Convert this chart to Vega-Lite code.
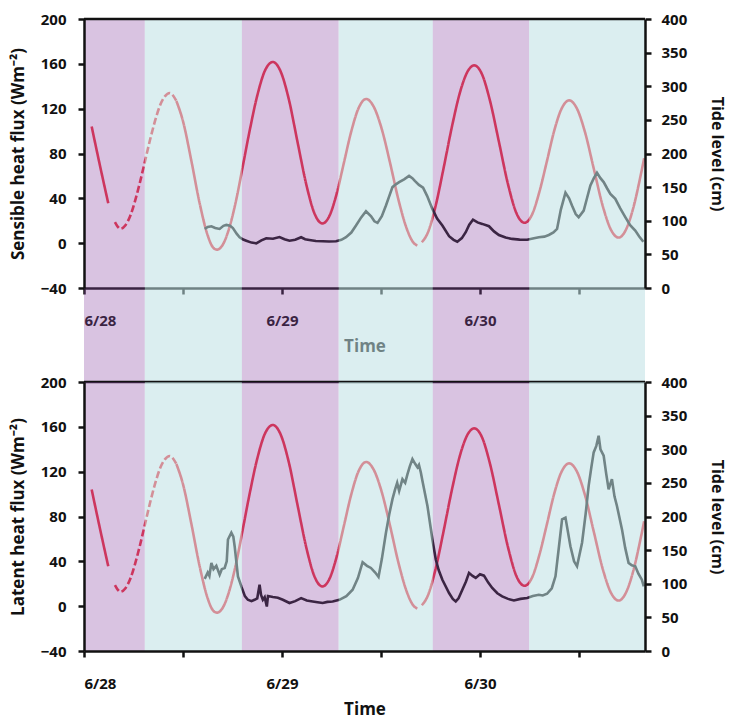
{
  "$schema": "https://vega.github.io/schema/vega-lite/v6.json",
  "padding": {"left": 9, "top": 12, "right": 5, "bottom": 5},
  "background": "white",
  "config": {
    "view": {"stroke": null},
    "font": "Open Sans",
    "axis": {
      "labelFont": "Open Sans", "titleFont": "Open Sans",
      "labelFontSize": 15, "labelFontWeight": "bold", "labelColor": "#111111",
      "titleFontSize": 16, "titleFontWeight": "bold", "titleColor": "#111111",
      "domainColor": "#111111", "domainWidth": 2.5, "tickColor": "#111111", "tickWidth": 2.5, "tickSize": 6,
      "grid": false
    }
  },
  "datasets": {
    "bands": [
      {"start": 0, "end": 7.37, "phase": "night"},
      {"start": 7.37, "end": 19.14, "phase": "day"},
      {"start": 19.14, "end": 30.87, "phase": "night"},
      {"start": 30.87, "end": 42.28, "phase": "day"},
      {"start": 42.28, "end": 53.96, "phase": "night"},
      {"start": 53.96, "end": 68, "phase": "day"}
    ],
    "tide": [
      {"seg": "A", "style": "solid", "t": 0.93, "h": 240},
      {"seg": "A", "style": "solid", "t": 1.9, "h": 184},
      {"seg": "A", "style": "solid", "t": 2.94, "h": 126},
      {"seg": "B", "style": "dashed", "t": 3.75, "h": 98},
      {"seg": "B", "style": "dashed", "t": 4.1, "h": 91},
      {"seg": "B", "style": "dashed", "t": 4.4, "h": 88},
      {"seg": "B", "style": "dashed", "t": 5.0, "h": 93},
      {"seg": "B", "style": "dashed", "t": 5.6, "h": 107},
      {"seg": "B", "style": "dashed", "t": 6.2, "h": 130},
      {"seg": "B", "style": "dashed", "t": 6.8, "h": 158},
      {"seg": "B", "style": "dashed", "t": 7.4, "h": 189},
      {"seg": "B", "style": "dashed", "t": 8.0, "h": 220},
      {"seg": "B", "style": "dashed", "t": 8.6, "h": 248},
      {"seg": "B", "style": "dashed", "t": 9.2, "h": 271},
      {"seg": "B", "style": "dashed", "t": 9.8, "h": 285},
      {"seg": "B", "style": "dashed", "t": 10.4, "h": 290},
      {"seg": "B", "style": "dashed", "t": 11.2, "h": 278},
      {"seg": "C", "style": "solid", "t": 11.2, "h": 278},
      {"seg": "C", "style": "solid", "t": 12.0, "h": 248},
      {"seg": "C", "style": "solid", "t": 13.0, "h": 190},
      {"seg": "C", "style": "solid", "t": 14.0, "h": 127},
      {"seg": "C", "style": "solid", "t": 15.0, "h": 78},
      {"seg": "C", "style": "solid", "t": 15.6, "h": 61},
      {"seg": "C", "style": "solid", "t": 16.1, "h": 57},
      {"seg": "C", "style": "solid", "t": 16.8, "h": 64},
      {"seg": "C", "style": "solid", "t": 17.6, "h": 89},
      {"seg": "C", "style": "solid", "t": 18.5, "h": 134},
      {"seg": "C", "style": "solid", "t": 19.2, "h": 178},
      {"seg": "C", "style": "solid", "t": 20.0, "h": 229},
      {"seg": "C", "style": "solid", "t": 21.0, "h": 286},
      {"seg": "C", "style": "solid", "t": 22.0, "h": 325},
      {"seg": "C", "style": "solid", "t": 22.9, "h": 336},
      {"seg": "C", "style": "solid", "t": 23.8, "h": 323},
      {"seg": "C", "style": "solid", "t": 24.8, "h": 282},
      {"seg": "C", "style": "solid", "t": 25.9, "h": 216},
      {"seg": "C", "style": "solid", "t": 27.0, "h": 151},
      {"seg": "C", "style": "solid", "t": 28.0, "h": 109},
      {"seg": "C", "style": "solid", "t": 28.9, "h": 96},
      {"seg": "C", "style": "solid", "t": 29.7, "h": 106},
      {"seg": "C", "style": "solid", "t": 30.6, "h": 139},
      {"seg": "C", "style": "solid", "t": 31.5, "h": 186},
      {"seg": "C", "style": "solid", "t": 32.4, "h": 233},
      {"seg": "C", "style": "solid", "t": 33.3, "h": 268},
      {"seg": "C", "style": "solid", "t": 34.2, "h": 281},
      {"seg": "C", "style": "solid", "t": 35.1, "h": 270},
      {"seg": "C", "style": "solid", "t": 36.1, "h": 236},
      {"seg": "C", "style": "solid", "t": 37.1, "h": 186},
      {"seg": "C", "style": "solid", "t": 38.1, "h": 132},
      {"seg": "C", "style": "solid", "t": 39.1, "h": 89},
      {"seg": "C", "style": "solid", "t": 39.9, "h": 68},
      {"seg": "C", "style": "solid", "t": 40.4, "h": 63},
      {"seg": "D", "style": "solid", "t": 40.95, "h": 68},
      {"seg": "D", "style": "solid", "t": 41.7, "h": 83},
      {"seg": "D", "style": "solid", "t": 42.6, "h": 121},
      {"seg": "D", "style": "solid", "t": 43.6, "h": 179},
      {"seg": "D", "style": "solid", "t": 44.6, "h": 240},
      {"seg": "D", "style": "solid", "t": 45.6, "h": 292},
      {"seg": "D", "style": "solid", "t": 46.5, "h": 322},
      {"seg": "D", "style": "solid", "t": 47.3, "h": 331},
      {"seg": "D", "style": "solid", "t": 48.2, "h": 319},
      {"seg": "D", "style": "solid", "t": 49.2, "h": 279},
      {"seg": "D", "style": "solid", "t": 50.3, "h": 217},
      {"seg": "D", "style": "solid", "t": 51.4, "h": 154},
      {"seg": "D", "style": "solid", "t": 52.5, "h": 109},
      {"seg": "D", "style": "solid", "t": 53.4, "h": 97},
      {"seg": "D", "style": "solid", "t": 54.3, "h": 109},
      {"seg": "D", "style": "solid", "t": 55.2, "h": 143},
      {"seg": "D", "style": "solid", "t": 56.1, "h": 188},
      {"seg": "D", "style": "solid", "t": 57.0, "h": 234},
      {"seg": "D", "style": "solid", "t": 57.9, "h": 267},
      {"seg": "D", "style": "solid", "t": 58.8, "h": 279},
      {"seg": "D", "style": "solid", "t": 59.7, "h": 268},
      {"seg": "D", "style": "solid", "t": 60.7, "h": 233},
      {"seg": "D", "style": "solid", "t": 61.8, "h": 177},
      {"seg": "D", "style": "solid", "t": 62.9, "h": 121},
      {"seg": "D", "style": "solid", "t": 63.9, "h": 86},
      {"seg": "D", "style": "solid", "t": 64.8, "h": 75},
      {"seg": "D", "style": "solid", "t": 65.7, "h": 87},
      {"seg": "D", "style": "solid", "t": 66.6, "h": 120},
      {"seg": "D", "style": "solid", "t": 67.5, "h": 169},
      {"seg": "D", "style": "solid", "t": 67.9, "h": 193}
    ],
    "sensible": [
      {"t": 14.63, "v": 12.7}, {"t": 15.0, "v": 14.5}, {"t": 15.44, "v": 15.1}, {"t": 15.9, "v": 13.5},
      {"t": 16.44, "v": 12.7}, {"t": 16.9, "v": 15.5}, {"t": 17.25, "v": 16.3}, {"t": 17.7, "v": 15.5},
      {"t": 18.05, "v": 13.5}, {"t": 18.5, "v": 8.5}, {"t": 18.86, "v": 5.3}, {"t": 19.3, "v": 3.2},
      {"t": 19.67, "v": 2.2}, {"t": 20.3, "v": 0.5}, {"t": 20.88, "v": -0.1}, {"t": 21.5, "v": 2.5},
      {"t": 22.09, "v": 4.4}, {"t": 22.9, "v": 4.0}, {"t": 23.7, "v": 5.5}, {"t": 24.3, "v": 3.5},
      {"t": 24.91, "v": 2.2}, {"t": 25.6, "v": 3.0}, {"t": 26.32, "v": 5.3}, {"t": 26.8, "v": 3.5},
      {"t": 27.32, "v": 2.9}, {"t": 28.1, "v": 2.0}, {"t": 28.93, "v": 1.7}, {"t": 29.7, "v": 1.5},
      {"t": 30.55, "v": 1.7}, {"t": 31.2, "v": 3.0}, {"t": 31.76, "v": 5.3}, {"t": 32.4, "v": 9.5},
      {"t": 32.97, "v": 15.7}, {"t": 33.6, "v": 23}, {"t": 34.18, "v": 28.5}, {"t": 34.8, "v": 24},
      {"t": 35.2, "v": 19.5}, {"t": 35.58, "v": 18.1}, {"t": 36.1, "v": 24}, {"t": 36.6, "v": 33.6},
      {"t": 37.0, "v": 42}, {"t": 37.39, "v": 50}, {"t": 37.8, "v": 52.5}, {"t": 38.2, "v": 54.5},
      {"t": 38.8, "v": 57}, {"t": 39.4, "v": 60}, {"t": 39.8, "v": 58}, {"t": 40.1, "v": 55.5},
      {"t": 40.6, "v": 52}, {"t": 41.1, "v": 49.5}, {"t": 41.6, "v": 42}, {"t": 42.2, "v": 31},
      {"t": 42.8, "v": 22}, {"t": 43.44, "v": 15.7}, {"t": 44.25, "v": 6.2}, {"t": 44.8, "v": 3.0},
      {"t": 45.25, "v": 1.3}, {"t": 45.8, "v": 4.5}, {"t": 46.27, "v": 9.8}, {"t": 46.7, "v": 16.5},
      {"t": 47.15, "v": 21}, {"t": 47.7, "v": 18.5}, {"t": 48.27, "v": 17.2}, {"t": 49.09, "v": 15.1},
      {"t": 49.7, "v": 10.5}, {"t": 50.29, "v": 7.3}, {"t": 51.1, "v": 5.0}, {"t": 51.9, "v": 3.8},
      {"t": 52.8, "v": 3.2}, {"t": 53.72, "v": 3.1}, {"t": 54.4, "v": 4.2}, {"t": 55.13, "v": 5.3},
      {"t": 55.8, "v": 5.8}, {"t": 56.34, "v": 7.3}, {"t": 56.9, "v": 9.5}, {"t": 57.34, "v": 12.7},
      {"t": 57.8, "v": 30}, {"t": 58.36, "v": 45}, {"t": 58.8, "v": 40}, {"t": 59.15, "v": 33.6},
      {"t": 59.6, "v": 26}, {"t": 59.96, "v": 23.2}, {"t": 60.57, "v": 29.1}, {"t": 61.0, "v": 41},
      {"t": 61.38, "v": 51.5}, {"t": 61.8, "v": 58}, {"t": 62.18, "v": 62.8}, {"t": 62.6, "v": 58},
      {"t": 62.99, "v": 54.5}, {"t": 63.4, "v": 49}, {"t": 63.8, "v": 44}, {"t": 64.4, "v": 39.6},
      {"t": 65.0, "v": 31}, {"t": 65.61, "v": 23.2}, {"t": 66.2, "v": 16}, {"t": 66.82, "v": 11.2},
      {"t": 67.3, "v": 6}, {"t": 67.8, "v": 1.3}
    ],
    "latent": [
      {"t": 14.63, "v": 24.3}, {"t": 15.0, "v": 30}, {"t": 15.2, "v": 27}, {"t": 15.44, "v": 38.6},
      {"t": 15.7, "v": 33}, {"t": 16.04, "v": 36}, {"t": 16.44, "v": 28.1}, {"t": 16.7, "v": 33},
      {"t": 17.05, "v": 34.1}, {"t": 17.3, "v": 40}, {"t": 17.45, "v": 59.5}, {"t": 17.86, "v": 65.5},
      {"t": 18.1, "v": 62}, {"t": 18.26, "v": 53.5}, {"t": 18.66, "v": 26.6}, {"t": 19.07, "v": 17.6},
      {"t": 19.5, "v": 9}, {"t": 19.86, "v": 5.7}, {"t": 20.3, "v": 4.5}, {"t": 20.67, "v": 5.7},
      {"t": 21.0, "v": 7}, {"t": 21.28, "v": 19.2}, {"t": 21.46, "v": 10}, {"t": 21.68, "v": 5.7},
      {"t": 21.9, "v": 8}, {"t": 22.16, "v": -0.3}, {"t": 22.3, "v": 9}, {"t": 22.89, "v": 8.1},
      {"t": 23.5, "v": 7.5}, {"t": 24.1, "v": 5.7}, {"t": 24.91, "v": 2.8}, {"t": 25.6, "v": 4.5},
      {"t": 26.32, "v": 7.2}, {"t": 27.0, "v": 5.0}, {"t": 27.72, "v": 4.2}, {"t": 28.3, "v": 3.5},
      {"t": 28.93, "v": 2.8}, {"t": 29.5, "v": 3.8}, {"t": 30.14, "v": 4.2}, {"t": 30.95, "v": 5.7},
      {"t": 31.8, "v": 9}, {"t": 32.56, "v": 14.7}, {"t": 33.2, "v": 25}, {"t": 33.77, "v": 39.2},
      {"t": 34.3, "v": 36}, {"t": 34.78, "v": 34.1}, {"t": 35.3, "v": 30}, {"t": 35.7, "v": 26.1},
      {"t": 36.1, "v": 42}, {"t": 36.6, "v": 65.5}, {"t": 37.0, "v": 82}, {"t": 37.39, "v": 95.5},
      {"t": 37.7, "v": 104}, {"t": 37.96, "v": 110}, {"t": 38.2, "v": 102.8}, {"t": 38.6, "v": 113.3},
      {"t": 38.93, "v": 110}, {"t": 39.21, "v": 117.8}, {"t": 39.5, "v": 125}, {"t": 39.81, "v": 131.2},
      {"t": 40.14, "v": 127}, {"t": 40.42, "v": 123.8}, {"t": 40.6, "v": 126}, {"t": 40.83, "v": 119.3},
      {"t": 41.02, "v": 111.8}, {"t": 41.63, "v": 89.4}, {"t": 42.23, "v": 59.5}, {"t": 42.64, "v": 41.6},
      {"t": 43.0, "v": 32}, {"t": 43.44, "v": 23.6}, {"t": 44.25, "v": 11.7}, {"t": 44.7, "v": 6.5},
      {"t": 45.06, "v": 4.2}, {"t": 45.4, "v": 7}, {"t": 45.86, "v": 14.7}, {"t": 46.3, "v": 22},
      {"t": 46.67, "v": 29.7}, {"t": 47.1, "v": 27}, {"t": 47.48, "v": 25.2}, {"t": 48.0, "v": 28.5},
      {"t": 48.48, "v": 27.2}, {"t": 49.0, "v": 21}, {"t": 49.48, "v": 16.2}, {"t": 50.1, "v": 11.5},
      {"t": 50.69, "v": 8.7}, {"t": 51.4, "v": 6.5}, {"t": 52.11, "v": 5.1}, {"t": 52.9, "v": 6.5},
      {"t": 53.72, "v": 7.2}, {"t": 54.4, "v": 9}, {"t": 55.13, "v": 10.2}, {"t": 55.6, "v": 9.5},
      {"t": 56.13, "v": 11.1}, {"t": 56.7, "v": 16}, {"t": 57.15, "v": 26.6}, {"t": 57.6, "v": 55},
      {"t": 57.95, "v": 77.4}, {"t": 58.36, "v": 79}, {"t": 58.96, "v": 53.5}, {"t": 59.4, "v": 40},
      {"t": 59.76, "v": 35.6}, {"t": 60.37, "v": 56.6}, {"t": 60.8, "v": 82}, {"t": 61.17, "v": 107.3},
      {"t": 61.5, "v": 124}, {"t": 61.78, "v": 137.2}, {"t": 62.1, "v": 143}, {"t": 62.38, "v": 152.1},
      {"t": 62.6, "v": 140}, {"t": 62.99, "v": 134.2}, {"t": 63.3, "v": 118}, {"t": 63.59, "v": 104.3},
      {"t": 63.99, "v": 113.3}, {"t": 64.3, "v": 98}, {"t": 64.6, "v": 89.4}, {"t": 65.21, "v": 68.5},
      {"t": 65.6, "v": 52}, {"t": 66.01, "v": 38.6}, {"t": 66.4, "v": 36.5}, {"t": 66.82, "v": 35.6},
      {"t": 67.2, "v": 29}, {"t": 67.62, "v": 23.6}, {"t": 67.85, "v": 17.6}
    ]
  },
  "spacing": 94,
  "bounds": "flush",
  "vconcat": [
    {
      "width": 561,
      "height": 269,
      "layer": [
        {
          "data": {"name": "tide"},
          "mark": {"type": "line", "color": "#ed2e3d", "strokeWidth": 2.6, "interpolate": "monotone"},
          "encoding": {
            "x": {"field": "t", "type": "quantitative", "scale": {"domain": [0, 68], "nice": false},
              "axis": {"values": [0, 12, 24, 36, 48, 60], "labelExpr": "datum.value == 0 ? '6/28' : datum.value == 24 ? '6/29' : datum.value == 48 ? '6/30' : ''",
                "title": "Time", "labelPadding": 19, "titlePadding": 10, "titleFontSize": 17, "zindex": 0}},
            "y": {"field": "h", "type": "quantitative", "scale": {"domain": [0, 400], "nice": false},
              "axis": {"orient": "right", "values": [0, 50, 100, 150, 200, 250, 300, 350, 400], "title": "Tide level (cm)", "labelPadding": 10, "titlePadding": 22, "zindex": 1}},
            "detail": {"field": "seg"},
            "strokeDash": {"field": "style", "type": "nominal", "scale": {"domain": ["solid", "dashed"], "range": [[1, 0], [7, 3]]}, "legend": null}
          }
        },
        {
          "data": {"name": "sensible"},
          "mark": {"type": "line", "color": "#141414", "strokeWidth": 2.6},
          "encoding": {
            "x": {"field": "t", "type": "quantitative"},
            "y": {"field": "v", "type": "quantitative", "scale": {"domain": [-40, 200], "nice": false},
              "axis": {"orient": "left", "values": [-40, 0, 40, 80, 120, 160, 200], "title": "Sensible heat flux (Wm⁻²)", "titleFontSize": 17, "labelPadding": 12, "titlePadding": 13, "zindex": 1}}
          }
        },
        {
          "data": {"name": "bands"},
          "mark": {"type": "rect", "clip": false},
          "encoding": {
            "x": {"field": "start", "type": "quantitative"},
            "x2": {"field": "end"},
            "y": {"datum": 200, "type": "quantitative", "scale": {"domain": [-40, 200], "nice": false}, "axis": null},
            "y2": {"datum": -124},
            "color": {"field": "phase", "type": "nominal", "scale": {"domain": ["night", "day"], "range": ["#8c49a4", "#bde0e4"]}, "legend": null},
            "opacity": {"field": "phase", "type": "nominal", "scale": {"domain": ["night", "day"], "range": [0.33, 0.55]}, "legend": null}
          }
        },
        {
          "data": {"values": [{"a": 0, "b": 68}]},
          "mark": {"type": "rule", "color": "#111111", "strokeWidth": 2.5},
          "encoding": {
            "x": {"field": "a", "type": "quantitative"},
            "x2": {"field": "b"},
            "y": {"datum": 200, "type": "quantitative", "scale": {"domain": [-40, 200], "nice": false}, "axis": null}
          }
        }
      ],
      "resolve": {"scale": {"y": "independent", "color": "independent", "opacity": "independent"}}
    },
    {
      "width": 561,
      "height": 269,
      "layer": [
        {
          "data": {"name": "tide"},
          "mark": {"type": "line", "color": "#ed2e3d", "strokeWidth": 2.6, "interpolate": "monotone"},
          "encoding": {
            "x": {"field": "t", "type": "quantitative", "scale": {"domain": [0, 68], "nice": false},
              "axis": {"values": [0, 12, 24, 36, 48, 60], "labelExpr": "datum.value == 0 ? '6/28' : datum.value == 24 ? '6/29' : datum.value == 48 ? '6/30' : ''",
                "title": "Time", "labelPadding": 19, "titlePadding": 10, "titleFontSize": 17, "zindex": 1}},
            "y": {"field": "h", "type": "quantitative", "scale": {"domain": [0, 400], "nice": false},
              "axis": {"orient": "right", "values": [0, 50, 100, 150, 200, 250, 300, 350, 400], "title": "Tide level (cm)", "labelPadding": 10, "titlePadding": 22, "zindex": 1}},
            "detail": {"field": "seg"},
            "strokeDash": {"field": "style", "type": "nominal", "scale": {"domain": ["solid", "dashed"], "range": [[1, 0], [7, 3]]}, "legend": null}
          }
        },
        {
          "data": {"name": "latent"},
          "mark": {"type": "line", "color": "#141414", "strokeWidth": 2.6},
          "encoding": {
            "x": {"field": "t", "type": "quantitative"},
            "y": {"field": "v", "type": "quantitative", "scale": {"domain": [-40, 200], "nice": false},
              "axis": {"orient": "left", "values": [-40, 0, 40, 80, 120, 160, 200], "title": "Latent heat flux (Wm⁻²)", "titleFontSize": 17, "labelPadding": 12, "titlePadding": 13, "zindex": 1}}
          }
        },
        {
          "data": {"values": [{"a": 0, "b": 68}]},
          "mark": {"type": "rule", "color": "#111111", "strokeWidth": 2.5},
          "encoding": {
            "x": {"field": "a", "type": "quantitative"},
            "x2": {"field": "b"},
            "y": {"datum": 200, "type": "quantitative", "scale": {"domain": [-40, 200], "nice": false}, "axis": null}
          }
        },
        {
          "data": {"name": "bands"},
          "mark": {"type": "rect", "clip": false},
          "encoding": {
            "x": {"field": "start", "type": "quantitative"},
            "x2": {"field": "end"},
            "y": {"datum": 200, "type": "quantitative", "scale": {"domain": [-40, 200], "nice": false}, "axis": null},
            "y2": {"datum": -40},
            "color": {"field": "phase", "type": "nominal", "scale": {"domain": ["night", "day"], "range": ["#8c49a4", "#bde0e4"]}, "legend": null},
            "opacity": {"field": "phase", "type": "nominal", "scale": {"domain": ["night", "day"], "range": [0.33, 0.55]}, "legend": null}
          }
        }
      ],
      "resolve": {"scale": {"y": "independent", "color": "independent", "opacity": "independent"}}
    }
  ]
}
